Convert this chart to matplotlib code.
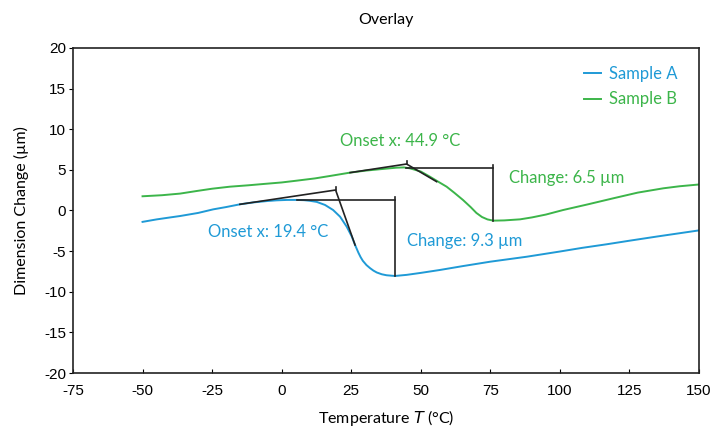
import matplotlib
matplotlib.use('Agg')
import matplotlib.pyplot as plt

# Sample A (blue)
temp_a = [-50, -45, -40, -36.5, -30, -24.6, -20, -15, -10, -5, -1.8, 2, 5.4, 8,
          10, 12.6, 15.6, 18.5, 21, 23.4, 25.2, 26.4, 27.6, 28.4, 29.2, 30.5,
          31.8, 33, 34.2, 36, 37.7, 40.7, 45, 50, 56.9, 65, 75, 88.1, 100, 108,
          116.8, 125, 135, 142, 150]
dim_a = [-1.4, -1.1, -0.85, -0.68, -0.3, 0.14, 0.42, 0.76, 1.0, 1.17, 1.25, 1.3,
         1.3, 1.27, 1.2, 1.06, 0.68, 0.06, -0.76, -2.0, -3.2, -4.25, -5.2,
         -5.75, -6.2, -6.72, -7.1, -7.4, -7.63, -7.85, -7.97, -8.06, -7.92,
         -7.68, -7.32, -6.85, -6.3, -5.69, -5.05, -4.6, -4.16, -3.72, -3.2,
         -2.85, -2.45]

# Sample B (green)
temp_b = [-50, -43, -36.5, -30.5, -25, -18.6, -12, -6.6, 0, 5.4, 12, 17.4,
          24.6, 30, 36, 41.3, 44, 46.1, 50, 53.3, 56, 59.3, 62, 65.2, 68, 70,
          72, 74, 76.1, 80, 85.7, 90, 95, 101.2, 110, 119.2, 128, 137.2, 143, 150]
dim_b = [1.75, 1.88, 2.08, 2.4, 2.68, 2.93, 3.1, 3.26, 3.45, 3.67, 3.95, 4.25,
         4.66, 4.9, 5.1, 5.27, 5.3, 5.19, 4.8, 4.16, 3.6, 2.93, 2.2, 1.29, 0.4,
         -0.3, -0.8, -1.1, -1.25, -1.22, -1.09, -0.85, -0.5, 0.06, 0.75, 1.5,
         2.2, 2.73, 2.98, 3.2]

# analysis constructions: onset tangents and step change
onset_a = [(-15, 0.76), (19.4, 2.52), (26.4, -4.25)]
tick_a = [(19.4, 2.52), (19.4, 2.93)]
change_a = [(5.4, 1.29), (40.7, 1.29), (40.7, 1.7), (40.7, -8.06)]

onset_b = [(24.6, 4.66), (44.9, 5.72), (55.7, 3.55)]
tick_b = [(44.9, 5.72), (44.9, 6.13)]
change_b = [(44.8, 5.19), (76.1, 5.19), (76.1, 5.6), (76.1, -1.25)]

blue = '#1f9ad6'
green = '#3cb54a'

plt.rcParams['font.family'] = ['Lato', 'DejaVu Sans']
plt.rcParams['axes.unicode_minus'] = False

fig = plt.figure(figsize=(7.27, 4.28), dpi=100)
ax = fig.add_axes([0.1004, 0.1285, 0.861, 0.7594])

ax.plot(temp_a, dim_a, color=blue, lw=1.4, label='Sample A')
ax.plot(temp_b, dim_b, color=green, lw=1.4, label='Sample B')

for pts in [onset_a, tick_a, onset_b, tick_b]:
    ax.plot([p[0] for p in pts], [p[1] for p in pts], color='#222222', lw=1.2)
for pts in [change_a, change_b]:
    ax.plot([pts[0][0], pts[1][0]], [pts[0][1], pts[1][1]], color='#222222', lw=1.2)
    ax.plot([pts[2][0], pts[3][0]], [pts[2][1], pts[3][1]], color='#222222', lw=1.2)

fs = 12
ax.text(-26.5, -2.65, 'Onset x: 19.4 °C', color=blue, fontsize=fs, va='center')
ax.text(45.1, -3.75, 'Change: 9.3 µm', color=blue, fontsize=fs, va='center')
ax.text(21.0, 8.55, 'Onset x: 44.9 °C', color=green, fontsize=fs, va='center')
ax.text(81.7, 4.0, 'Change: 6.5 µm', color=green, fontsize=fs, va='center')

ax.set_xlim(-75, 150)
ax.set_ylim(-20, 20)
ax.set_xticks(range(-75, 151, 25))
ax.set_yticks(range(-20, 21, 5))
ax.tick_params(axis='x', direction='in', length=3, pad=8, labelsize=11)
ax.tick_params(axis='y', direction='out', length=3, pad=2, labelsize=11)
for lab in ax.get_xticklabels() + ax.get_yticklabels():
    lab.set_family(['Liberation Sans', 'DejaVu Sans'])
for s in ax.spines.values():
    s.set_linewidth(1.2)
    s.set_color('#222222')

ax.set_xlabel('Temperature $\\mathit{T}$ (°C)', fontsize=11.5, labelpad=7)
ax.set_ylabel('Dimension Change (µm)', fontsize=11.5, labelpad=11)
ax.set_title('Overlay', fontsize=11.5, pad=17)

leg = ax.legend(loc='upper right', frameon=False, fontsize=12, handlelength=1.0,
                handletextpad=0.5, labelspacing=0.55, bbox_to_anchor=(0.99, 0.99))
for txt, c in zip(leg.get_texts(), [blue, green]):
    txt.set_color(c)

fig.savefig('out.png', dpi=100)
